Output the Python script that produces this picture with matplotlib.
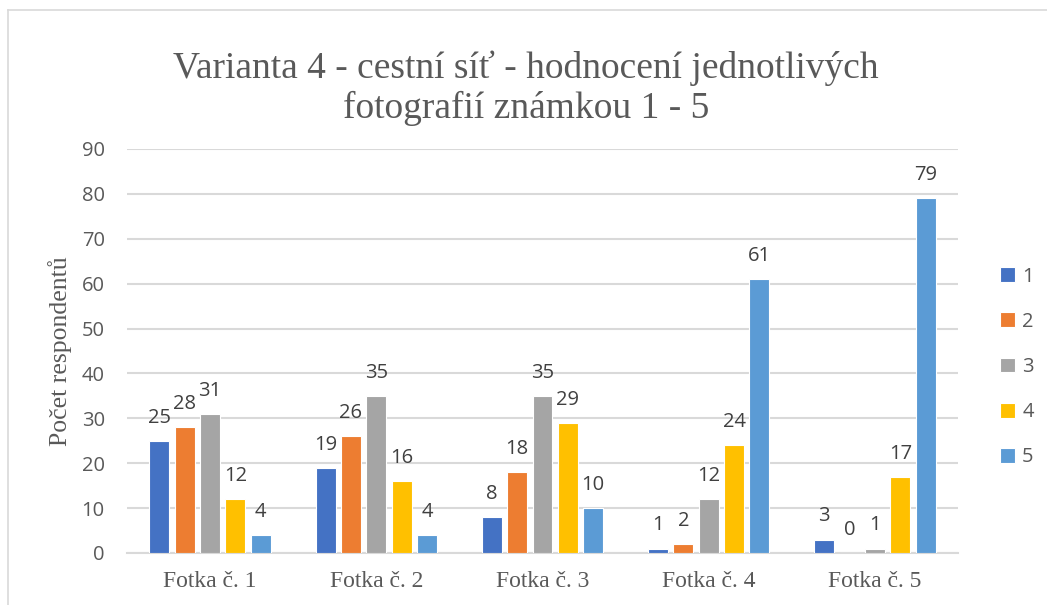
import matplotlib
matplotlib.use("Agg")
import matplotlib.pyplot as plt
import numpy as np
from matplotlib.lines import Line2D

categories = ["Fotka č. 1", "Fotka č. 2", "Fotka č. 3", "Fotka č. 4", "Fotka č. 5"]
series_names = ["1", "2", "3", "4", "5"]
values = {
    "1": [25, 19, 8, 1, 3],
    "2": [28, 26, 18, 2, 0],
    "3": [31, 35, 35, 12, 1],
    "4": [12, 16, 29, 24, 17],
    "5": [4, 4, 10, 61, 79],
}
colors = ["#4472C4", "#ED7D31", "#A5A5A5", "#FFC000", "#5B9BD5"]
title = "Varianta 4 - cestní síť - hodnocení jednotlivých\nfotografií známkou 1 - 5"
ylabel = "Počet respondentů"
yticks = [0, 10, 20, 30, 40, 50, 60, 70, 80, 90]

W, H = 1047, 605
fig = plt.figure(figsize=(W / 100, H / 100), dpi=100)
ax = fig.add_axes([127 / W, 1 - 553 / H, (958 - 127) / W, (553 - 149) / H])

x = np.arange(len(categories))
pitch = 0.1525
bw = 0.12
for i, name in enumerate(series_names):
    off = (i - 2) * pitch
    ax.bar(x + off, values[name], width=bw, color=colors[i],
           edgecolor="white", linewidth=0.8, label=name, zorder=3)
    for xi, v in zip(x + off, values[name]):
        ax.annotate(str(v), (xi, v), xytext=(0, 13), textcoords="offset points",
                    ha="center", va="baseline", fontsize=14.5,
                    family="Open Sans", color="#404040")

ax.set_xlim(-0.5, len(categories) - 0.5)
ax.set_ylim(0, 90)
ax.set_yticks(yticks)
ax.set_yticklabels([str(t) for t in yticks], family="Open Sans", fontsize=14.5, color="#595959")
ax.set_xticks(x)
ax.set_xticklabels(categories, family="Liberation Serif", fontsize=17, color="#595959")
ax.tick_params(axis="both", length=0)
ax.tick_params(axis="y", pad=16)
ax.tick_params(axis="x", pad=13)
ax.grid(axis="y", color="#D9D9D9", linewidth=1.5, zorder=0)
for s in ["top", "right", "left"]:
    ax.spines[s].set_visible(False)
ax.spines["bottom"].set_color("#D9D9D9")
ax.spines["bottom"].set_linewidth(1.5)
ax.set_axisbelow(True)

ax.set_ylabel(ylabel, family="Liberation Serif", fontsize=18.5, color="#595959")
ax.yaxis.set_label_coords(-55 / (958 - 127), 0.5)

fig.text(526 / W, 1 - 88 / H, title, ha="center", va="center", family="Liberation Serif",
         fontsize=27, color="#595959", linespacing=1.18)

leg = ax.legend(loc="center left", bbox_to_anchor=(990 / W, 1 - 367 / H),
                bbox_transform=fig.transFigure, frameon=False,
                prop={"family": "Open Sans", "size": 14.5},
                handlelength=0.75, handleheight=0.75, handletextpad=0.35,
                labelspacing=1.25, borderpad=0)
for t in leg.get_texts():
    t.set_color("#595959")

fig.add_artist(Line2D([8 / W, 8 / W], [0, 1 - 10 / H], transform=fig.transFigure,
                      color="#D9D9D9", linewidth=1.2))
fig.add_artist(Line2D([8 / W, 1], [1 - 10 / H, 1 - 10 / H], transform=fig.transFigure,
                      color="#D9D9D9", linewidth=1.2))

fig.savefig("out.png", dpi=100)
